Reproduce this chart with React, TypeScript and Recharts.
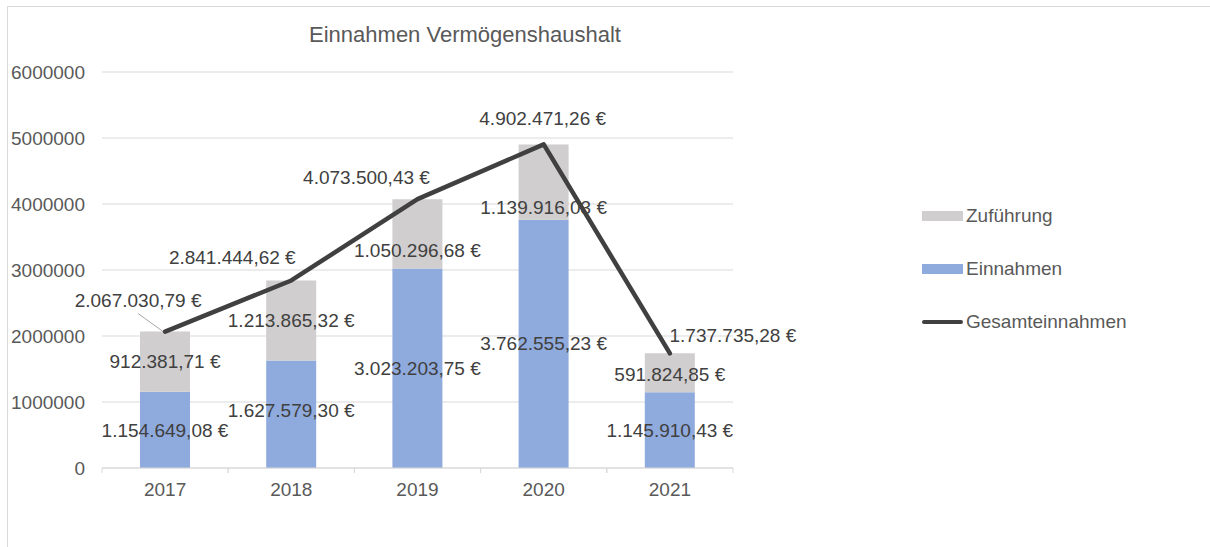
import {
  Bar,
  CartesianGrid,
  ComposedChart,
  LabelList,
  Legend,
  Line,
  XAxis,
  YAxis,
} from "recharts";

const YEARS = ["2017", "2018", "2019", "2020", "2021"];
const EINNAHMEN = [1154649.08, 1627579.3, 3023203.75, 3762555.23, 1145910.43];
const ZUFUEHRUNG = [912381.71, 1213865.32, 1050296.68, 1139916.03, 591824.85];
const GESAMT = [2067030.79, 2841444.62, 4073500.43, 4902471.26, 1737735.28];
const Y_TICKS = [0, 1000000, 2000000, 3000000, 4000000, 5000000, 6000000];

const TITLE = "Einnahmen Vermögenshaushalt";

const data = YEARS.map((year, i) => ({
  year,
  einnahmen: EINNAHMEN[i],
  zufuehrung: ZUFUEHRUNG[i],
  gesamt: GESAMT[i],
}));

// hand-placed label nudges, like in the original sheet
const TOTAL_LABEL_OFFSET: [number, number][] = [
  [-27, -31],
  [-59, -23],
  [-51, -22],
  [-1, -26],
  [63, -18],
];
const ZUF_LABEL_DY = [0, 0, 17, 25, 2];
const EIN_LABEL_DY = [1, -4, 0, 0, 0];

const W = 1210;
const H = 547;
const PLOT_LEFT = 102;
const PLOT_RIGHT = 733;
const PLOT_TOP = 72;
const PLOT_BOTTOM = 468;
const BAND = (PLOT_RIGHT - PLOT_LEFT) / YEARS.length;

const FONT = '"Liberation Sans", Arial, sans-serif';
const C_BLUE = "#8FAADC";
const C_GRAY = "#D0CECE";
const C_LINE = "#404040";
const C_GRID = "#D9D9D9";
const C_TEXT = "#595959";
const C_LABEL = "#404040";

function euro(v: number) {
  const [i, d] = v.toFixed(2).split(".");
  return i.replace(/\B(?=(\d{3})+(?!\d))/g, ".") + "," + d + " €";
}

function BarLabel(props: any, dyList?: number[]) {
  const { x, y, width, height, value, index } = props;
  const dy = dyList ? dyList[index] ?? 0 : 0;
  return (
    <text
      x={Number(x) + Number(width) / 2}
      y={Number(y) + Number(height) / 2 + dy}
      textAnchor="middle"
      dominantBaseline="central"
      fill={C_LABEL}
      fontSize={19}
      fontFamily={FONT}
    >
      {euro(Number(value))}
    </text>
  );
}

function TotalLabel(props: any) {
  const { x, y, value, index } = props;
  const [dx, dy] = TOTAL_LABEL_OFFSET[index] ?? [0, -20];
  return (
    <g>
      {index === 0 && (
        <line
          x1={x + dx}
          y1={y + dy + 13}
          x2={x - 2}
          y2={y}
          stroke="#A6A6A6"
          strokeWidth={1}
        />
      )}
      <text
        x={x + dx}
        y={y + dy}
        textAnchor="middle"
        dominantBaseline="central"
        fill={C_LABEL}
        fontSize={19}
        fontFamily={FONT}
      >
        {euro(Number(value))}
      </text>
    </g>
  );
}

function YearTick(props: any) {
  const { x, y, payload } = props;
  return (
    <g>
      <line x1={x - BAND / 2} y1={PLOT_BOTTOM} x2={x - BAND / 2} y2={PLOT_BOTTOM + 5} stroke={C_GRID} />
      <line x1={x + BAND / 2} y1={PLOT_BOTTOM} x2={x + BAND / 2} y2={PLOT_BOTTOM + 5} stroke={C_GRID} />
      <text
        x={x}
        y={y}
        dy="0.71em"
        textAnchor="middle"
        fill={C_TEXT}
        fontSize={19}
        fontFamily={FONT}
      >
        {payload.value}
      </text>
    </g>
  );
}

const LEGEND_ITEMS = [
  { label: "Zuführung", kind: "rect", color: C_GRAY },
  { label: "Einnahmen", kind: "rect", color: C_BLUE },
  { label: "Gesamteinnahmen", kind: "line", color: C_LINE },
];

function LegendBox() {
  return (
    <div style={{ fontFamily: FONT, fontSize: 19, color: C_TEXT }}>
      {LEGEND_ITEMS.map((it) => (
        <div
          key={it.label}
          style={{ display: "flex", alignItems: "center", height: 53, gap: 3 }}
        >
          {it.kind === "rect" ? (
            <span style={{ width: 41, height: 10, background: it.color, display: "inline-block" }} />
          ) : (
            <span
              style={{
                width: 41,
                height: 4,
                borderRadius: 2,
                background: it.color,
                display: "inline-block",
              }}
            />
          )}
          <span>{it.label}</span>
        </div>
      ))}
    </div>
  );
}

export default function App() {
  return (
    <div
      style={{
        position: "absolute",
        left: 0,
        top: 0,
        width: W,
        height: H,
        background: "#fff",
        overflow: "hidden",
      }}
    >
      <div
        style={{
          position: "absolute",
          left: 7,
          top: 6,
          width: W,
          height: H,
          border: `1px solid ${C_GRID}`,
        }}
      />
      <div
        style={{
          position: "absolute",
          left: 0,
          width: 930,
          top: 22,
          textAlign: "center",
          fontFamily: FONT,
          fontSize: 22,
          color: C_TEXT,
          whiteSpace: "nowrap",
        }}
      >
        {TITLE}
      </div>
      <ComposedChart
        width={W}
        height={H}
        data={data}
        margin={{ top: PLOT_TOP, right: W - PLOT_RIGHT, bottom: 0, left: 0 }}
        style={{ position: "absolute", left: 0, top: 0 }}
      >
        <CartesianGrid vertical={false} stroke={C_GRID} />
        <XAxis
          dataKey="year"
          height={H - PLOT_BOTTOM}
          axisLine={{ stroke: C_GRID }}
          tickLine={false}
          tickMargin={9}
          tick={<YearTick />}
          interval={0}
        />
        <YAxis
          domain={[0, 6000000]}
          ticks={Y_TICKS}
          width={PLOT_LEFT}
          axisLine={false}
          tickLine={false}
          tickMargin={11}
          tick={{ fill: C_TEXT, fontSize: 19, fontFamily: FONT }}
        />
        <Legend
          layout="vertical"
          align="center"
          verticalAlign="middle"
          wrapperStyle={{ left: 922, top: 189, width: 280 }}
          content={() => <LegendBox />}
        />
        <Bar
          dataKey="einnahmen"
          name="Einnahmen"
          stackId="a"
          fill={C_BLUE}
          barSize={50}
          isAnimationActive={false}
        >
          <LabelList dataKey="einnahmen" content={(p: any) => BarLabel(p, EIN_LABEL_DY)} />
        </Bar>
        <Bar
          dataKey="zufuehrung"
          name="Zuführung"
          stackId="a"
          fill={C_GRAY}
          barSize={50}
          isAnimationActive={false}
        >
          <LabelList dataKey="zufuehrung" content={(p: any) => BarLabel(p, ZUF_LABEL_DY)} />
        </Bar>
        <Line
          dataKey="gesamt"
          name="Gesamteinnahmen"
          stroke={C_LINE}
          strokeWidth={4.5}
          strokeLinecap="round"
          strokeLinejoin="round"
          dot={false}
          activeDot={false}
          isAnimationActive={false}
        >
          <LabelList dataKey="gesamt" content={TotalLabel} />
        </Line>
      </ComposedChart>
    </div>
  );
}
